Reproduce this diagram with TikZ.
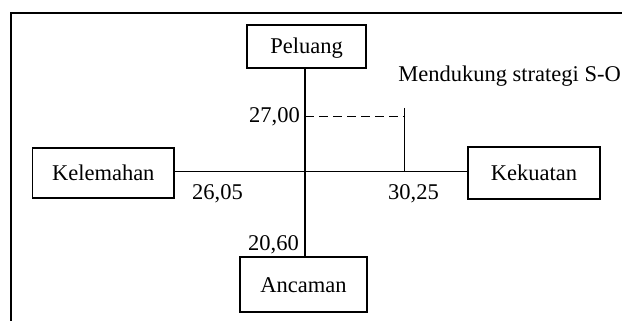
\documentclass[tikz,border=0pt]{standalone}
\usepackage{fontspec}
\setmainfont{Liberation Serif}
\begin{document}
\begin{tikzpicture}[x=1pt,y=-1pt,
  box/.style={draw,line width=1.3pt,rectangle,inner sep=0pt,text height=15pt,text depth=0pt,font=\fontsize{22.5}{26}\selectfont},
  lbl/.style={inner sep=0pt,font=\fontsize{22.5}{26}\selectfont},
  conn/.style={line width=1.3pt},
  dashconn/.style={line width=1.5pt,dash pattern=on 9pt off 5pt}]
\useasboundingbox (0,0) rectangle (622,321);
\clip (0,0) rectangle (622,321);
\fill[white] (0,0) rectangle (622,321);
% outer frame (extends past right and bottom edges)
\draw[line width=1.6pt] (10.7,335) |- (640,13.3);
% boxes
\node[box,minimum width=119pt,minimum height=43pt] (pel) at (306.5,46.5) {Peluang};
\node[box,minimum width=141.5pt,minimum height=50pt] (kel) at (103.25,173) {Kelemahan};
\node[box,minimum width=132pt,minimum height=52pt] (kek) at (534,173) {Kekuatan};
\node[box,minimum width=127pt,minimum height=55pt] (anc) at (303.5,284.5) {Ancaman};
% axes
\coordinate (c) at (305,171.5);
\draw[conn] (kel.east |- c) -- (kek.west |- c);
\draw[conn] (pel.south -| c) -- (anc.north -| c);
% position marker
\coordinate (d0) at (305,116.7);
\coordinate (tt) at (404.3,108);
\coordinate (tb) at (404.3,171.5);
\draw[dashconn] (d0) -- (d0 -| tt);
\draw[conn] (tt) -- (tb);
% labels
\node[lbl,anchor=base east] (v27) at (300,123) {27,00};
\node[lbl,anchor=base west] (v26) at (192,200) {26,05};
\node[lbl,anchor=base west] (v30) at (388,200) {30,25};
\node[lbl,anchor=base west] (v20) at (248,250) {20,60};
\node[lbl,anchor=base east] (md) at (621,82) {Mendukung strategi S-O};
\end{tikzpicture}
\end{document}
